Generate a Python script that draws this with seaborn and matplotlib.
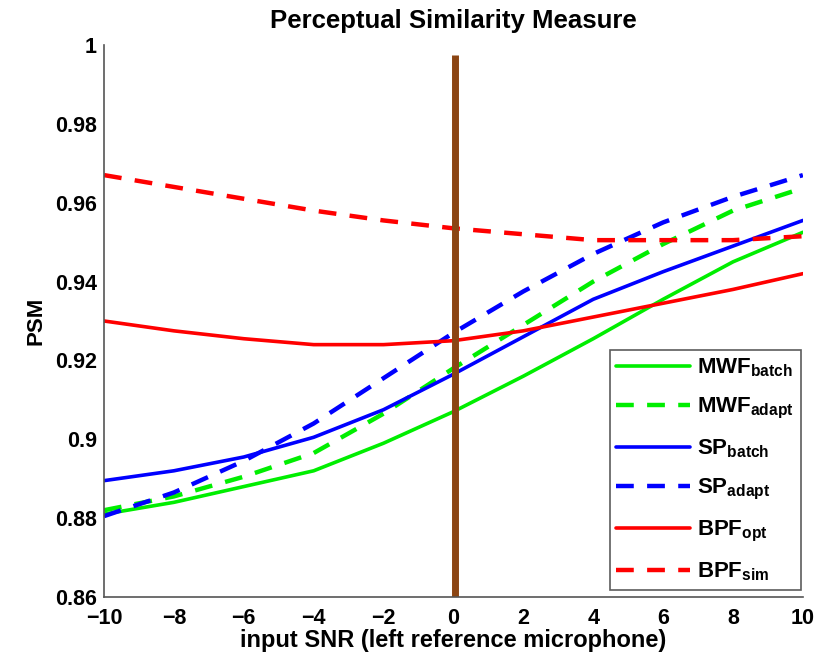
import numpy as np
import pandas as pd
import matplotlib
matplotlib.use("Agg")
import matplotlib.pyplot as plt
import seaborn as sns

snr = [-10, -8, -6, -4, -2, 0, 2, 4, 6, 8, 10]

mwf_batch = [0.881, 0.884, 0.888, 0.892, 0.899, 0.907, 0.916, 0.9255, 0.9355, 0.945, 0.9525]
mwf_adapt = [0.882, 0.8855, 0.8905, 0.8965, 0.9065, 0.918, 0.929, 0.940, 0.9495, 0.958, 0.9637]
sp_batch = [0.8895, 0.892, 0.8955, 0.9005, 0.9075, 0.9165, 0.926, 0.9355, 0.9425, 0.949, 0.9555]
sp_adapt = [0.8805, 0.8865, 0.8945, 0.904, 0.9155, 0.927, 0.9375, 0.947, 0.955, 0.9615, 0.967]
bpf_opt = [0.930, 0.9275, 0.9255, 0.924, 0.924, 0.925, 0.9275, 0.931, 0.9345, 0.938, 0.942]
bpf_sim = [0.967, 0.964, 0.961, 0.958, 0.9555, 0.9535, 0.952, 0.9505, 0.9505, 0.9505, 0.9515]

labels = [r"$\mathbf{MWF_{batch}}$", r"$\mathbf{MWF_{adapt}}$",
          r"$\mathbf{SP_{batch}}$", r"$\mathbf{SP_{adapt}}$",
          r"$\mathbf{BPF_{opt}}$", r"$\mathbf{BPF_{sim}}$"]
series = [mwf_batch, mwf_adapt, sp_batch, sp_adapt, bpf_opt, bpf_sim]
colors = ["#00ee00", "#00ee00", "#0000ff", "#0000ff", "#ff0000", "#ff0000"]
dashed = [False, True, False, True, False, True]

sns.set_style("white")
plt.rcParams["font.family"] = ["Liberation Sans", "DejaVu Sans"]
plt.rcParams["mathtext.fontset"] = "custom"
plt.rcParams["mathtext.rm"] = "Liberation Sans"
plt.rcParams["mathtext.bf"] = "Liberation Sans:bold"
plt.rcParams["text.color"] = "black"
plt.rcParams["axes.labelcolor"] = "black"

fig = plt.figure(figsize=(8.34, 6.56), dpi=100)
ax = fig.add_axes([0.1247, 0.09, 0.838, 0.8414])

for lab, ys, c, d in zip(labels, series, colors, dashed):
    df = pd.DataFrame({"snr": snr, "psm": ys})
    sns.lineplot(data=df, x="snr", y="psm", ax=ax, color=c, label=lab,
                 linewidth=3.2 if d else 2.6)
    if d:
        ax.lines[-1].set_dashes((4, 3))

# vertical marker at 0 dB
ax.axvline(0.05, ymin=0, ymax=0.982, color="#8B4513", linewidth=5,
           solid_capstyle="butt")

ax.set_xlim(-10, 10)
ax.set_ylim(0.86, 1.0)
ax.set_xticks(range(-10, 11, 2))
ax.set_yticks([0.86, 0.88, 0.9, 0.92, 0.94, 0.96, 0.98, 1.0])
ax.set_yticklabels(["0.86", "0.88", "0.9", "0.92", "0.94", "0.96", "0.98", "1"])
ax.tick_params(direction="in", length=6, width=1, colors="#444444", labelcolor="black",
               labelsize=15.5)
ax.tick_params(axis="x", pad=8)
ax.tick_params(axis="y", pad=5)
for t in ax.get_xticklabels() + ax.get_yticklabels():
    t.set_fontweight("bold")

for s in ["top", "right"]:
    ax.spines[s].set_visible(False)
for s in ["left", "bottom"]:
    ax.spines[s].set_color("#555555")
    ax.spines[s].set_linewidth(1.2)

ax.set_title("Perceptual Similarity Measure", fontsize=18.5, fontweight="bold", pad=12)
ax.set_xlabel("input SNR (left reference microphone)", fontsize=17, fontweight="bold", labelpad=0)
ax.set_ylabel("PSM", fontsize=16, fontweight="bold", labelpad=6)

leg = ax.legend(loc="lower right", fontsize=16, handlelength=3.3, labelspacing=0.75,
                frameon=True, fancybox=False, borderpad=0.3, handletextpad=0.35,
                borderaxespad=0, bbox_to_anchor=(0.997, 0.0127))
leg.get_frame().set_edgecolor("#333333")
leg.get_frame().set_linewidth(1.2)

fig.savefig("out.png", dpi=100)
